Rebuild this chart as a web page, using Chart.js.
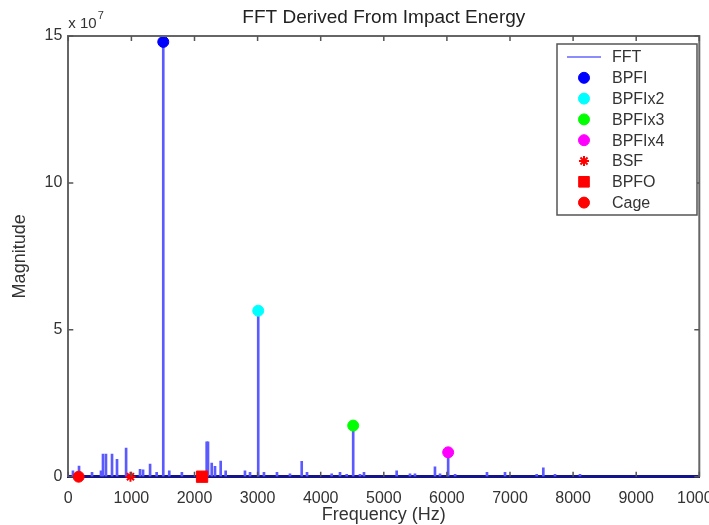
<!DOCTYPE html>
<html>
<head>
<meta charset="utf-8">
<script src="https://cdn.jsdelivr.net/npm/chart.js"></script>
<style>
html,body{margin:0;padding:0;overflow:hidden;background:#fff;width:709px;height:525px}
#c{display:block}
</style>
</head>
<body>
<canvas id="c" width="740" height="525" style="width:740px;height:525px"></canvas>
<script>
// ---------- data ----------
const chartTitle = 'FFT Derived From Impact Energy';
const xTitle = 'Frequency (Hz)';
const yTitle = 'Magnitude';
const yExponent = '7';
const xTicks = [0,1000,2000,3000,4000,5000,6000,7000,8000,9000,10000];
const yTicks = [0,5,10,15];

// FFT spectrum lines (Hz, magnitude in units of 1e7)
const fftFreq = [74,170,376,518,550,597,693,772,916,1137,1185,1296,1400,1505,1600,1800,
  2193,2214,2273,2325,2415,2494,2800,2880,3010,3101,3307,3513,3699,3783,4174,4306,4412,
  4515,4623,4686,5204,5415,5494,5811,5891,6020,6130,6635,6921,7423,7528,7713,8109];
const fftMag = [0.2,0.36,0.15,0.2,0.77,0.77,0.77,0.59,0.97,0.25,0.23,0.43,0.15,14.8,0.2,0.15,
  1.19,1.19,0.46,0.35,0.53,0.2,0.2,0.15,5.65,0.15,0.15,0.1,0.52,0.15,0.1,0.15,0.08,
  1.74,0.08,0.15,0.2,0.1,0.1,0.34,0.1,0.83,0.08,0.15,0.15,0.08,0.3,0.08,0.08];

// fault frequency markers
const markerLabels = ['BPFI','BPFIx2','BPFIx3','BPFIx4','BSF','BPFO','Cage'];
const markerFreq = [1505,3010,4515,6020,985,2120,164];
const markerMag = [14.8,5.65,1.74,0.83,0,0,0];

// ---------- styles ----------
const FONT = '"Liberation Sans", Arial, Helvetica, sans-serif';
const markerStyles = [
  {color:'#0000ff', pointStyle:'circle', radius:5.5, borderWidth:1},
  {color:'#00ffff', pointStyle:'circle', radius:5.5, borderWidth:1},
  {color:'#00ff00', pointStyle:'circle', radius:5.5, borderWidth:1},
  {color:'#ff00ff', pointStyle:'circle', radius:5.5, borderWidth:1},
  {color:'#ff0000', pointStyle:'star', radius:5, borderWidth:2},
  {color:'#ff0000', pointStyle:'rect', radius:8, borderWidth:1},
  {color:'#ff0000', pointStyle:'circle', radius:5.5, borderWidth:1}
];

const datasets = [{
  type:'bar',
  label:'FFT',
  data: fftFreq.map((f,i)=>({x:f, y:fftMag[i]})),
  backgroundColor:'#5a5aff',
  borderWidth:0,
  barThickness:2,
  legendColor:'#8c8cff',
  order:2
}];
markerLabels.forEach((lab,i)=>{
  const s = markerStyles[i];
  datasets.push({
    type:'scatter',
    label:lab,
    data:[{x:markerFreq[i], y:markerMag[i]}],
    backgroundColor:s.color,
    borderColor:s.color,
    pointStyle:s.pointStyle,
    pointRadius:s.radius,
    pointBorderWidth:s.borderWidth,
    clip:false,
    order:1
  });
});

const framePlugin = {
  id:'matlabFrame',
  afterDraw(chart){
    const {ctx, chartArea:a, scales:{x, y}} = chart;
    ctx.save();
    // top & right frame
    ctx.strokeStyle = '#666';
    ctx.lineWidth = 2;
    ctx.beginPath();
    ctx.moveTo(a.left, a.top); ctx.lineTo(a.right, a.top); ctx.lineTo(a.right, a.bottom);
    ctx.stroke();
    // inward ticks
    ctx.strokeStyle = '#555';
    ctx.lineWidth = 1.5;
    ctx.beginPath();
    x.ticks.forEach(t=>{
      const px = x.getPixelForValue(t.value);
      ctx.moveTo(px, a.bottom); ctx.lineTo(px, a.bottom-5);
      ctx.moveTo(px, a.top); ctx.lineTo(px, a.top+5);
    });
    y.ticks.forEach(t=>{
      const py = y.getPixelForValue(t.value);
      ctx.moveTo(a.left, py); ctx.lineTo(a.left+5, py);
      ctx.moveTo(a.right, py); ctx.lineTo(a.right-5, py);
    });
    ctx.stroke();
    // exponent note
    ctx.fillStyle = '#333';
    ctx.textBaseline = 'alphabetic';
    ctx.textAlign = 'left';
    ctx.font = '15px ' + FONT;
    const base = 'x 10';
    ctx.fillText(base, a.left, a.top - 8);
    const w = ctx.measureText(base).width;
    ctx.font = '11px ' + FONT;
    ctx.fillText(yExponent, a.left + w + 1, a.top - 17);

    // legend
    const L = {left:557, top:44, right:697, bottom:215, row0:57, step:20.8, mx:584, tx:612};
    ctx.fillStyle = '#fff';
    ctx.fillRect(L.left, L.top, L.right-L.left, L.bottom-L.top);
    ctx.strokeStyle = '#555';
    ctx.lineWidth = 1.5;
    ctx.strokeRect(L.left, L.top, L.right-L.left, L.bottom-L.top);
    const H = Chart.helpers;
    chart.data.datasets.forEach((ds,i)=>{
      const cy = L.row0 + i*L.step;
      if (ds.type === 'bar') {
        ctx.strokeStyle = ds.legendColor;
        ctx.lineWidth = 2;
        ctx.beginPath(); ctx.moveTo(567, cy); ctx.lineTo(601, cy); ctx.stroke();
      } else {
        ctx.fillStyle = ds.backgroundColor;
        ctx.strokeStyle = ds.borderColor;
        ctx.lineWidth = ds.pointBorderWidth;
        const opts = {pointStyle:ds.pointStyle, radius:ds.pointStyle==='rect'?7.5:ds.pointRadius, borderWidth:ds.pointBorderWidth, rotation:0};
        if (H && H.drawPoint) {
          H.drawPoint(ctx, opts, L.mx, cy);
        } else {
          ctx.beginPath(); ctx.arc(L.mx, cy, 5, 0, Math.PI*2); ctx.fill();
        }
      }
      ctx.fillStyle = '#333';
      ctx.font = '16px ' + FONT;
      ctx.textBaseline = 'middle';
      ctx.fillText(ds.label, L.tx, cy + 1);
    });
    ctx.restore();
  }
};

new Chart(document.getElementById('c'), {
  type:'scatter',
  data:{datasets},
  options:{
    responsive:false,
    animation:false,
    events:[],
    layout:{padding:{left:0, right:40.7, top:0, bottom:0}},
    plugins:{
      legend:{display:false},
      tooltip:{enabled:false},
      title:{
        display:true, text:chartTitle, fullSize:false, color:'#222',
        font:{family:FONT, size:19, weight:'normal', lineHeight:1},
        padding:{top:8, bottom:9}
      }
    },
    scales:{
      x:{
        type:'linear', min:0, max:10000, offset:false,
        afterBuildTicks: s => { s.ticks = xTicks.map(v=>({value:v})); },
        ticks:{autoSkip:false, maxRotation:0, color:'#333', padding:14,
          font:{family:FONT, size:16, lineHeight:1}, callback:v=>String(v)},
        grid:{offset:false, drawOnChartArea:false, drawTicks:false},
        border:{color:'#14148a', width:3},
        title:{display:true, text:xTitle, color:'#333',
          font:{family:FONT, size:18, lineHeight:1}, padding:{top:0, bottom:1}},
        afterFit: s => { s.height = 48.3; }
      },
      y:{
        type:'linear', min:0, max:15,
        afterBuildTicks: s => { s.ticks = yTicks.map(v=>({value:v})); },
        ticks:{color:'#333', padding:6, font:{family:FONT, size:16, lineHeight:1}, callback:v=>String(v)},
        grid:{drawOnChartArea:false, drawTicks:false},
        border:{color:'#666', width:2},
        title:{display:true, text:yTitle, color:'#333',
          font:{family:FONT, size:18, lineHeight:1}, padding:{top:11, bottom:0}},
        afterFit: s => { s.width = 68.3; }
      }
    }
  },
  plugins:[framePlugin]
});
</script>
</body>
</html>
